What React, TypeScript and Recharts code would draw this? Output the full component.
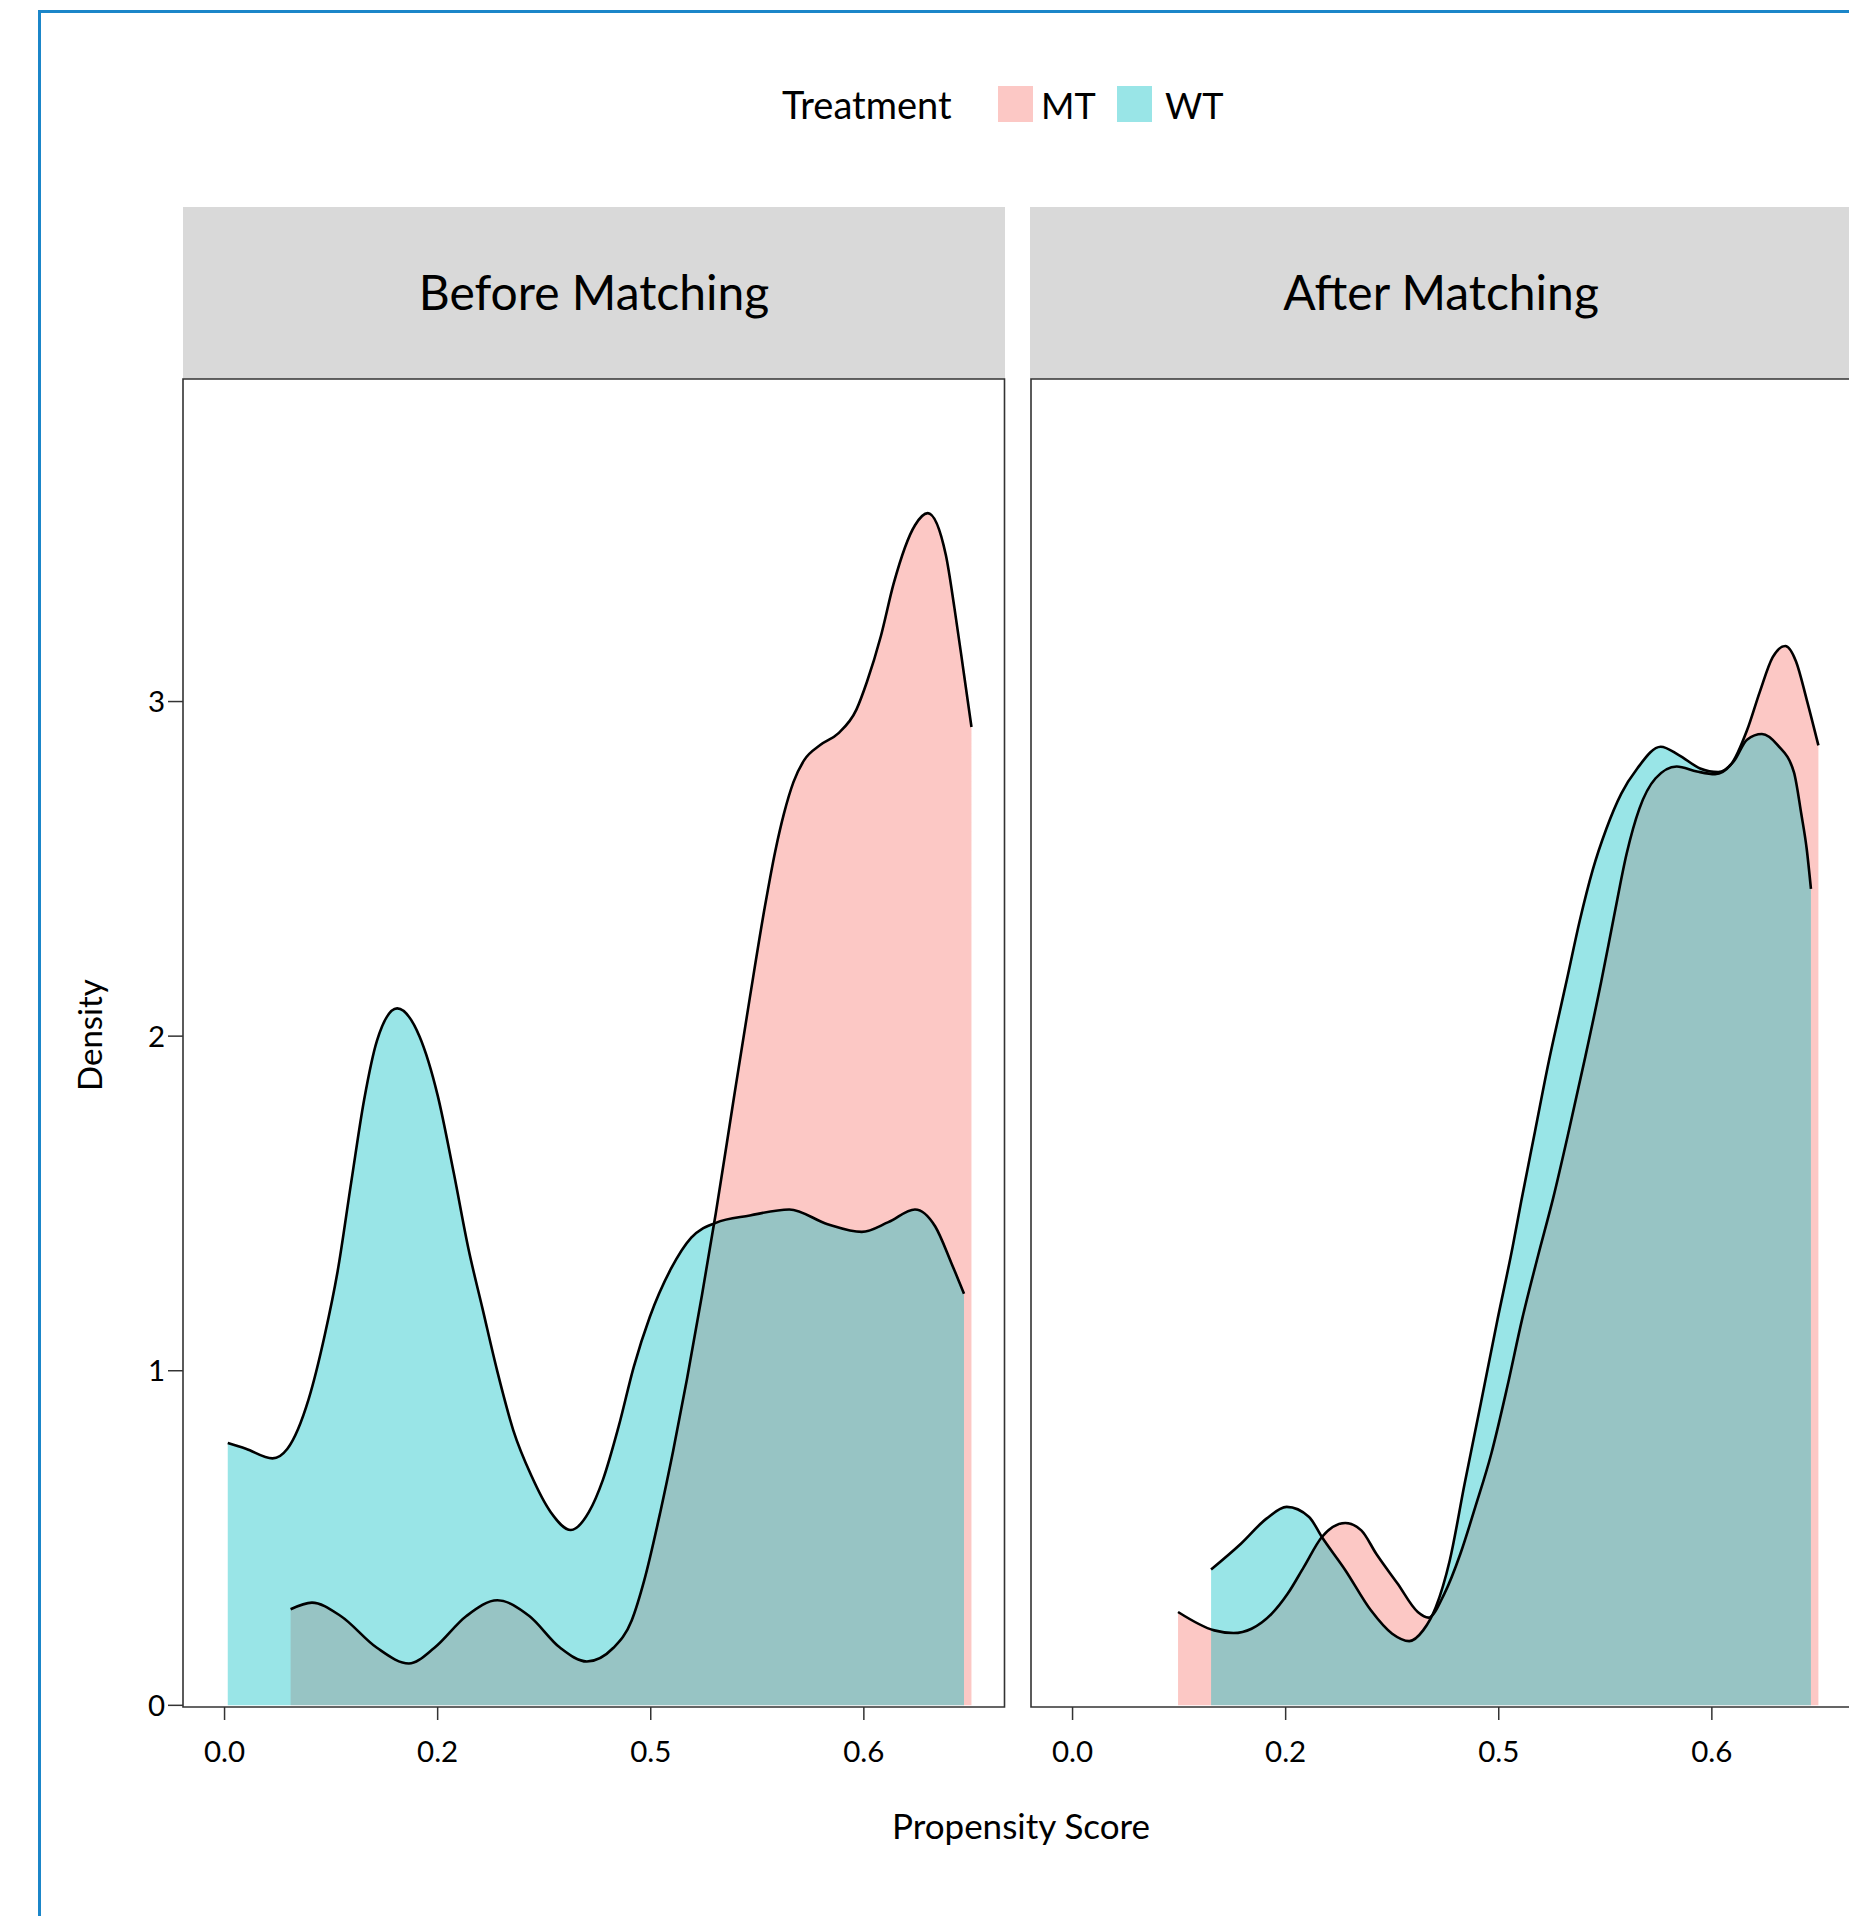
import React from 'react';
import { ComposedChart, Area, XAxis, YAxis, ReferenceArea } from 'recharts';

// ---- data ----
const groups = ['MT', 'WT'];
const groupColors = ['#F8766D', '#00BFC4'];
const panelTitles = ['Before Matching', 'After Matching'];
const legendTitle = 'Treatment';
const xTitle = 'Propensity Score';
const yTitle = 'Density';

const xTickValues = [0, 0.2, 0.4, 0.6];
const xTickLabels = ['0.0', '0.2', '0.5', '0.6'];
const yTickValues = [0, 1, 2, 3];
const yTickLabels = ['0', '1', '2', '3'];

const beforeMtX = [0.062, 0.082, 0.109, 0.143, 0.173, 0.197, 0.227, 0.256, 0.286, 0.315, 0.34, 0.365, 0.382, 0.394, 0.409, 0.421, 0.434, 0.448, 0.461, 0.478, 0.493, 0.507, 0.517, 0.525, 0.534, 0.544, 0.559, 0.576, 0.593, 0.603, 0.616, 0.628, 0.648, 0.66, 0.677, 0.685, 0.694, 0.701];
const beforeMtY = [0.287, 0.307, 0.267, 0.172, 0.125, 0.172, 0.267, 0.314, 0.267, 0.172, 0.131, 0.172, 0.253, 0.375, 0.578, 0.76, 0.975, 1.225, 1.47, 1.815, 2.115, 2.385, 2.555, 2.665, 2.76, 2.825, 2.87, 2.905, 2.976, 3.06, 3.196, 3.353, 3.527, 3.563, 3.437, 3.28, 3.081, 2.924];
const beforeWtX = [0.003, 0.02, 0.045, 0.059, 0.079, 0.094, 0.106, 0.119, 0.131, 0.143, 0.162, 0.183, 0.2, 0.215, 0.229, 0.242, 0.256, 0.271, 0.288, 0.306, 0.325, 0.342, 0.355, 0.37, 0.384, 0.399, 0.419, 0.438, 0.461, 0.493, 0.53, 0.566, 0.598, 0.623, 0.648, 0.667, 0.682, 0.694];
const beforeWtY = [0.784, 0.767, 0.738, 0.767, 0.916, 1.106, 1.295, 1.566, 1.81, 1.986, 2.083, 1.999, 1.823, 1.593, 1.363, 1.187, 0.998, 0.822, 0.686, 0.578, 0.524, 0.578, 0.673, 0.835, 1.011, 1.16, 1.305, 1.398, 1.442, 1.464, 1.482, 1.438, 1.415, 1.444, 1.482, 1.431, 1.323, 1.23];

const afterMtX = [0.099, 0.133, 0.151, 0.168, 0.187, 0.202, 0.217, 0.234, 0.256, 0.271, 0.285, 0.305, 0.324, 0.334, 0.349, 0.364, 0.378, 0.393, 0.408, 0.422, 0.437, 0.451, 0.466, 0.481, 0.496, 0.508, 0.52, 0.532, 0.547, 0.567, 0.586, 0.603, 0.618, 0.633, 0.645, 0.657, 0.669, 0.679, 0.689, 0.7];
const afterMtY = [0.279, 0.224, 0.216, 0.229, 0.274, 0.334, 0.413, 0.503, 0.545, 0.523, 0.453, 0.364, 0.279, 0.262, 0.334, 0.453, 0.593, 0.752, 0.952, 1.155, 1.345, 1.515, 1.72, 1.935, 2.16, 2.355, 2.545, 2.68, 2.77, 2.806, 2.791, 2.783, 2.812, 2.914, 3.029, 3.132, 3.166, 3.12, 3.006, 2.869];
const afterWtX = [0.13, 0.158, 0.182, 0.201, 0.222, 0.234, 0.256, 0.28, 0.3, 0.316, 0.329, 0.341, 0.354, 0.368, 0.383, 0.398, 0.413, 0.421, 0.434, 0.447, 0.457, 0.464, 0.476, 0.488, 0.501, 0.515, 0.53, 0.552, 0.569, 0.589, 0.606, 0.621, 0.633, 0.647, 0.662, 0.677, 0.684, 0.689, 0.693];
const afterWtY = [0.406, 0.483, 0.558, 0.593, 0.563, 0.503, 0.404, 0.284, 0.214, 0.192, 0.224, 0.294, 0.433, 0.663, 0.9, 1.14, 1.37, 1.505, 1.715, 1.925, 2.07, 2.17, 2.345, 2.495, 2.62, 2.725, 2.8, 2.865, 2.84, 2.8, 2.789, 2.823, 2.886, 2.903, 2.869, 2.789, 2.663, 2.56, 2.44];

// ---- layout ----
const FONT = 'Lato, "Open Sans", sans-serif';
const xDomain: [number, number] = [-0.039, 0.732];
const yDomain: [number, number] = [-0.005, 3.964];
const AXIS_COLOR = '#333333';

function merge(mx: number[], my: number[], wx: number[], wy: number[]) {
  const rows: { x: number; MT?: number; WT?: number }[] = [];
  mx.forEach((x, i) => rows.push({ x, MT: my[i] }));
  wx.forEach((x, i) => rows.push({ x, WT: wy[i] }));
  rows.sort((a, b) => a.x - b.x);
  return rows;
}

const panels = [
  merge(beforeMtX, beforeMtY, beforeWtX, beforeWtY),
  merge(afterMtX, afterMtY, afterWtX, afterWtY),
];

const fmtX = (v: number) => {
  const i = xTickValues.findIndex((t) => Math.abs(t - v) < 1e-9);
  return i >= 0 ? xTickLabels[i] : String(v);
};
const fmtY = (v: number) => {
  const i = yTickValues.findIndex((t) => Math.abs(t - v) < 1e-9);
  return i >= 0 ? yTickLabels[i] : String(v);
};

function Panel({ data, showY }: { data: any[]; showY: boolean }) {
  const width = showY ? 1010 : 900;
  const margin = showY
    ? { top: 379, right: 5.5, bottom: 33, left: 123 }
    : { top: 379, right: 47.5, bottom: 33, left: 31 };
  return (
    <ComposedChart width={width} height={1800} data={data} margin={margin}>
      <XAxis
        dataKey="x"
        type="number"
        domain={xDomain}
        allowDataOverflow
        ticks={xTickValues}
        tickFormatter={fmtX}
        axisLine={false}
        tickSize={13}
        tickMargin={21}
        height={60}
        tickLine={{ stroke: AXIS_COLOR, strokeWidth: 1.5 }}
        tick={{ fontSize: 29.5, fill: '#000', fontFamily: FONT }}
      />
      <YAxis
        type="number"
        domain={yDomain}
        allowDataOverflow
        ticks={yTickValues}
        tickFormatter={fmtY}
        hide={!showY}
        width={60}
        axisLine={false}
        tickSize={15}
        tickMargin={3}
        tickLine={{ stroke: AXIS_COLOR, strokeWidth: 1.5 }}
        tick={{ fontSize: 29.5, fill: '#000', fontFamily: FONT }}
      />
      {groups.map((g, i) => (
        <Area
          key={'fill-' + g}
          type="monotone"
          dataKey={g}
          connectNulls
          stroke="none"
          fill={groupColors[i]}
          fillOpacity={0.4}
          isAnimationActive={false}
          dot={false}
          activeDot={false}
        />
      ))}
      {groups.map((g) => (
        <Area
          key={'line-' + g}
          type="monotone"
          dataKey={g}
          connectNulls
          stroke="#000"
          strokeWidth={2.6}
          fill="none"
          fillOpacity={0}
          isAnimationActive={false}
          dot={false}
          activeDot={false}
        />
      ))}
      <ReferenceArea
        x1={xDomain[0]}
        x2={xDomain[1]}
        y1={yDomain[0]}
        y2={yDomain[1]}
        fill="none"
        fillOpacity={0}
        stroke={AXIS_COLOR}
        strokeWidth={1.6}
        ifOverflow="visible"
      />
    </ComposedChart>
  );
}

export default function App() {
  return (
    <div
      style={{
        position: 'absolute',
        left: 0,
        top: 0,
        width: 1849,
        height: 1916,
        overflow: 'hidden',
        background: '#fff',
        fontFamily: FONT,
      }}
    >
      <div
        style={{
          position: 'absolute',
          left: 38,
          top: 10,
          width: 2000,
          height: 2000,
          borderLeft: '3px solid #1b86c9',
          borderTop: '3px solid #1b86c9',
        }}
      />
      <svg
        width={1849}
        height={1916}
        style={{ position: 'absolute', left: 0, top: 0 }}
        fontFamily={FONT}
      >
        <text x={782} y={119} fontSize={38} fill="#000">
          {legendTitle}
        </text>
        <rect x={998} y={86} width={35} height={36} fill={groupColors[0]} fillOpacity={0.4} />
        <text x={1041} y={119} fontSize={36} fill="#000">
          {groups[0]}
        </text>
        <rect x={1117} y={86} width={35} height={36} fill={groupColors[1]} fillOpacity={0.4} />
        <text x={1165} y={119} fontSize={36} fill="#000">
          {groups[1]}
        </text>
        <rect x={183} y={207} width={822} height={172} fill="#D9D9D9" />
        <rect x={1030} y={207} width={822} height={172} fill="#D9D9D9" />
        <text x={594} y={310} fontSize={48} textAnchor="middle" fill="#000">
          {panelTitles[0]}
        </text>
        <text x={1441} y={310} fontSize={48} textAnchor="middle" fill="#000">
          {panelTitles[1]}
        </text>
        <text x={1021} y={1839} fontSize={35} textAnchor="middle" fill="#000">
          {xTitle}
        </text>
        <text
          x={0}
          y={0}
          fontSize={33}
          textAnchor="middle"
          fill="#000"
          transform="translate(102,1035) rotate(-90)"
        >
          {yTitle}
        </text>
      </svg>
      <div style={{ position: 'absolute', left: 0, top: 0 }}>
        <Panel data={panels[0]} showY={true} />
      </div>
      <div style={{ position: 'absolute', left: 1000, top: 0 }}>
        <Panel data={panels[1]} showY={false} />
      </div>
    </div>
  );
}
